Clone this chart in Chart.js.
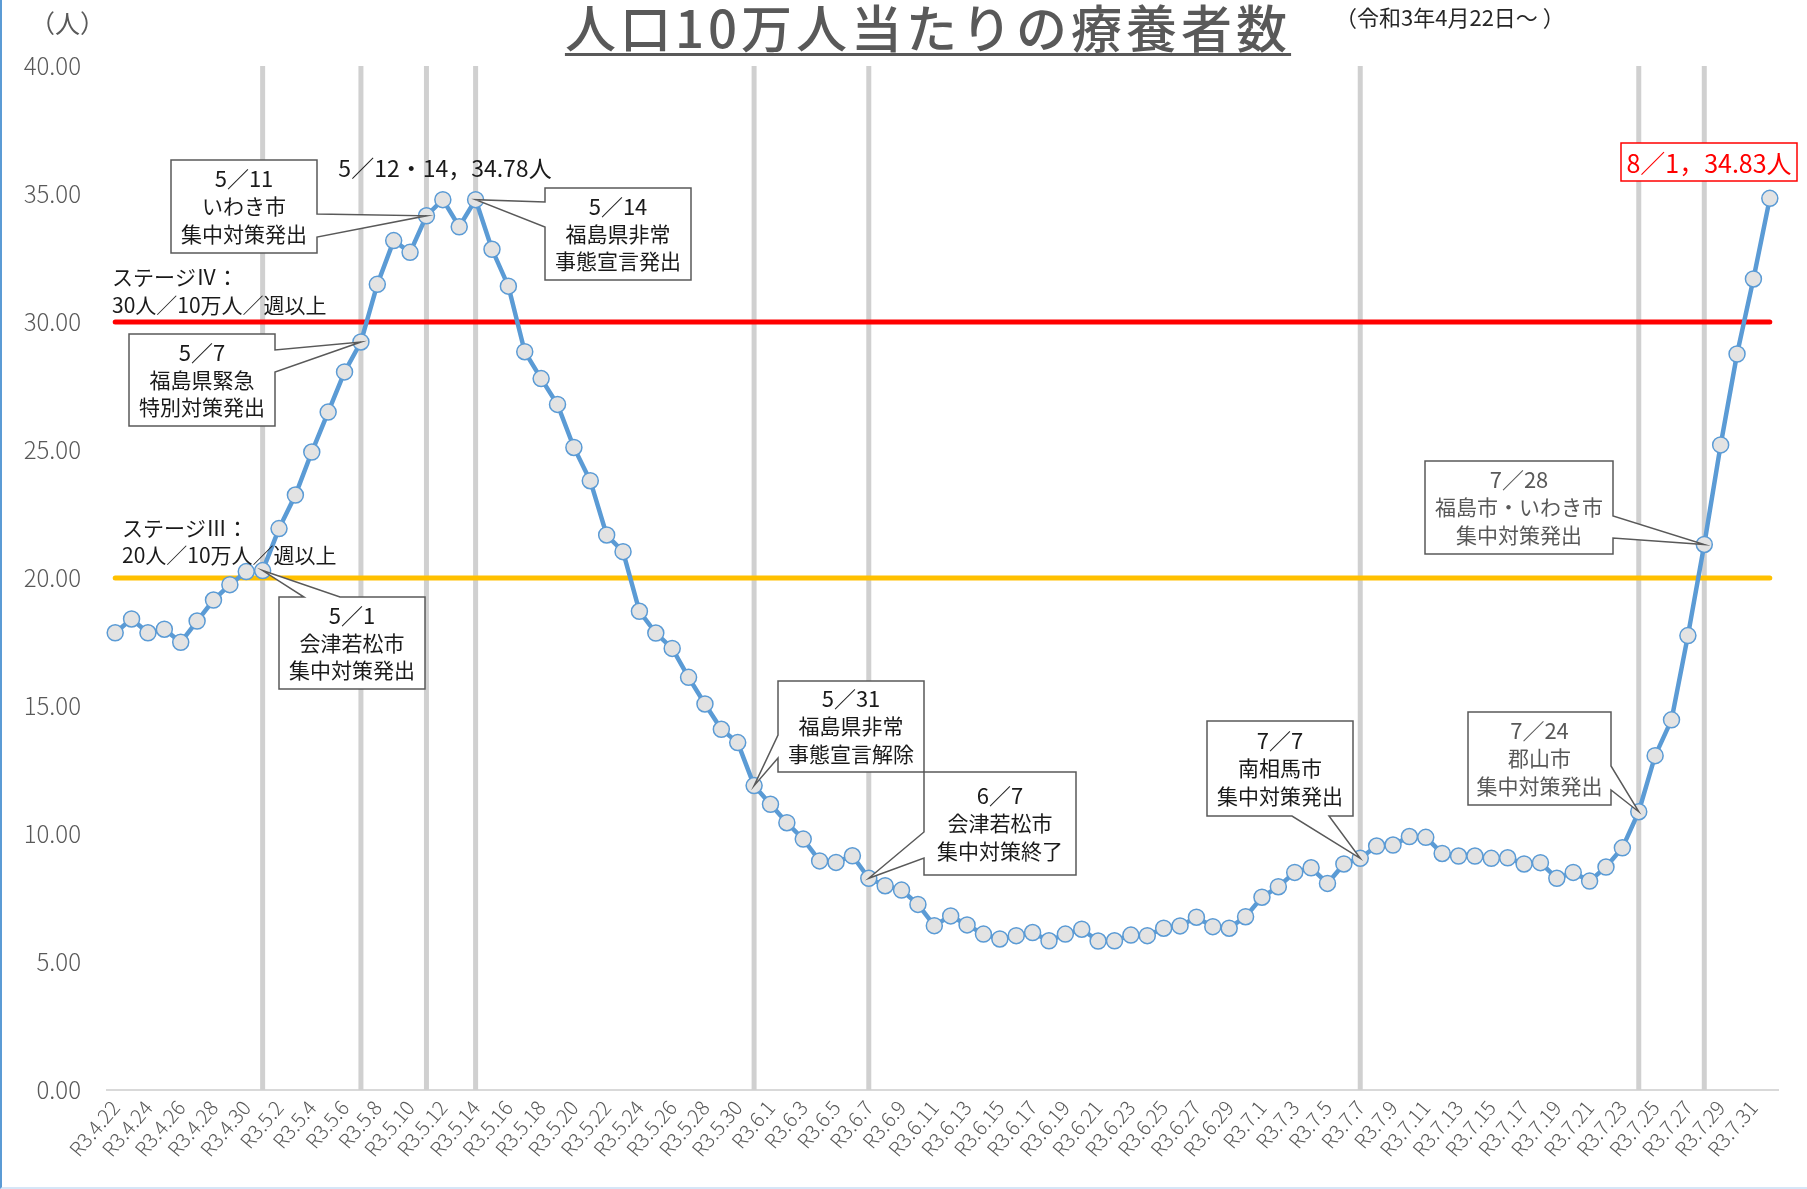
<!DOCTYPE html>
<html lang="ja">
<head>
<meta charset="utf-8">
<title>人口10万人当たりの療養者数</title>
<script src="https://cdn.jsdelivr.net/npm/chart.js@4.4.0/dist/chart.umd.min.js"></script>
<style>
  body { margin: 0; background: #fff; }
  #cadre { position: relative; width: 1807px; height: 1189px; font-family: 'Noto Sans CJK JP', sans-serif; }
  #cadre canvas { position: absolute; left: 0; top: 0; }
  .texte { position: absolute; white-space: nowrap; line-height: 1; }
  #titre { left: 428px; width: 1000px; text-align: center; top: 1px; font-size: 51px; font-weight: 500; color: #595959; letter-spacing: 4px;
           text-decoration: underline; text-decoration-thickness: 3px; text-underline-offset: 5px; }
  #soustitre { left: 1335px; top: 5px; font-size: 22px; color: #262626; }
  #unite { left: 30px; top: 10px; font-size: 25px; color: #595959; }
  #bord { position: absolute; left: 0; top: 0; width: 1805px; height: 1187px; border-left: 2px solid #5b9bd5; border-bottom: 2px solid #d6e6f7; pointer-events: none; }
</style>
</head>
<body>
<div id="cadre">
  <canvas id="graphique"></canvas>
  <div class="texte" id="titre">人口10万人当たりの療養者数</div>
  <div class="texte" id="soustitre">（令和3年4月22日～ ）</div>
  <div class="texte" id="unite">（人）</div>
  <div id="bord"></div>
</div>
<script>
// dates (axe des x)
const dates = [
  'R3.4.22','R3.4.23','R3.4.24','R3.4.25','R3.4.26','R3.4.27','R3.4.28','R3.4.29','R3.4.30',
  'R3.5.1','R3.5.2','R3.5.3','R3.5.4','R3.5.5','R3.5.6','R3.5.7','R3.5.8','R3.5.9','R3.5.10',
  'R3.5.11','R3.5.12','R3.5.13','R3.5.14','R3.5.15','R3.5.16','R3.5.17','R3.5.18','R3.5.19','R3.5.20',
  'R3.5.21','R3.5.22','R3.5.23','R3.5.24','R3.5.25','R3.5.26','R3.5.27','R3.5.28','R3.5.29','R3.5.30','R3.5.31',
  'R3.6.1','R3.6.2','R3.6.3','R3.6.4','R3.6.5','R3.6.6','R3.6.7','R3.6.8','R3.6.9','R3.6.10',
  'R3.6.11','R3.6.12','R3.6.13','R3.6.14','R3.6.15','R3.6.16','R3.6.17','R3.6.18','R3.6.19','R3.6.20',
  'R3.6.21','R3.6.22','R3.6.23','R3.6.24','R3.6.25','R3.6.26','R3.6.27','R3.6.28','R3.6.29','R3.6.30',
  'R3.7.1','R3.7.2','R3.7.3','R3.7.4','R3.7.5','R3.7.6','R3.7.7','R3.7.8','R3.7.9','R3.7.10',
  'R3.7.11','R3.7.12','R3.7.13','R3.7.14','R3.7.15','R3.7.16','R3.7.17','R3.7.18','R3.7.19','R3.7.20',
  'R3.7.21','R3.7.22','R3.7.23','R3.7.24','R3.7.25','R3.7.26','R3.7.27','R3.7.28','R3.7.29','R3.7.30','R3.7.31',
  'R3.8.1'
];

//療養者数 pour 10万人
const ryoyosha = [
  17.86, 18.40, 17.86, 18.00, 17.49, 18.32, 19.14, 19.74, 20.25,
  20.29, 21.93, 23.24, 24.92, 26.48, 28.05, 29.22, 31.47, 33.18, 32.72,
  34.15, 34.78, 33.72, 34.78, 32.84, 31.40, 28.84, 27.79, 26.78, 25.10,
  23.80, 21.68, 21.03, 18.70, 17.85, 17.25, 16.12, 15.08, 14.09, 13.57, 11.89,
  11.16, 10.44, 9.80, 8.95, 8.89, 9.15, 8.27, 7.98, 7.81, 7.25,
  6.42, 6.80, 6.45, 6.09, 5.90, 6.03, 6.15, 5.83, 6.09, 6.28,
  5.82, 5.83, 6.05, 6.03, 6.32, 6.41, 6.75, 6.38, 6.32, 6.77,
  7.53, 7.94, 8.50, 8.68, 8.07, 8.83, 9.05, 9.53, 9.57, 9.90,
  9.87, 9.24, 9.14, 9.14, 9.05, 9.07, 8.83, 8.88, 8.27, 8.50,
  8.16, 8.71, 9.46, 10.87, 13.06, 14.46, 17.75, 21.31, 25.20, 28.75, 31.68,
  34.83
];

// seuils des stages
const seuilStage4 = 30;
const seuilStage3 = 20;

// graduations de l'axe y
const yMin = 0, yMax = 40, yPas = 5;

// dates des lignes verticales (mesures)
const datesMesures = ['R3.5.1','R3.5.7','R3.5.11','R3.5.14','R3.5.31','R3.6.7','R3.7.7','R3.7.24','R3.7.28'];

const police = "'Noto Sans CJK JP', sans-serif";

// bulles d'annotation (position de la boite en pixels, pointe sur le point de la date)
const bulles = [
  { texte: ['5／11', 'いわき市', '集中対策発出'], x: 171, y: 160, w: 146, h: 93, cote: 'right', a: 214, b: 237, date: 'R3.5.11', couleur: '#1a1a1a' },
  { texte: ['5／14', '福島県非常', '事態宣言発出'], x: 545, y: 188, w: 146, h: 92, cote: 'left', a: 202, b: 227, date: 'R3.5.14', couleur: '#1a1a1a' },
  { texte: ['5／7', '福島県緊急', '特別対策発出'], x: 129, y: 334, w: 146, h: 92, cote: 'right', a: 350, b: 372, date: 'R3.5.7', couleur: '#1a1a1a' },
  { texte: ['5／1', '会津若松市', '集中対策発出'], x: 279, y: 597, w: 146, h: 92, cote: 'top', a: 304, b: 340, date: 'R3.5.1', couleur: '#1a1a1a' },
  { texte: ['5／31', '福島県非常', '事態宣言解除'], x: 778, y: 681, w: 146, h: 91, cote: 'left', a: 735, b: 758, date: 'R3.5.31', couleur: '#1a1a1a' },
  { texte: ['6／7', '会津若松市', '集中対策終了'], x: 924, y: 772, w: 152, h: 103, cote: 'left', a: 832, b: 858, date: 'R3.6.7', couleur: '#1a1a1a' },
  { texte: ['7／7', '南相馬市', '集中対策発出'], x: 1207, y: 721, w: 146, h: 95, cote: 'bottom', a: 1292, b: 1329, date: 'R3.7.7', couleur: '#1a1a1a' },
  { texte: ['7／24', '郡山市', '集中対策発出'], x: 1468, y: 712, w: 143, h: 93, cote: 'right', a: 766, b: 790, date: 'R3.7.24', couleur: '#595959' },
  { texte: ['7／28', '福島市・いわき市', '集中対策発出'], x: 1425, y: 461, w: 188, h: 93, cote: 'right', a: 516, b: 538, date: 'R3.7.28', couleur: '#595959' }
];

// chemin d'une bulle avec sa pointe
function cheminBulle(ctx, bl, px, py) {
  const { x, y, w, h, a, b } = bl;
  ctx.beginPath();
  ctx.moveTo(x, y);
  if (bl.cote === 'top') { ctx.lineTo(a, y); ctx.lineTo(px, py); ctx.lineTo(b, y); }
  ctx.lineTo(x + w, y);
  if (bl.cote === 'right') { ctx.lineTo(x + w, a); ctx.lineTo(px, py); ctx.lineTo(x + w, b); }
  ctx.lineTo(x + w, y + h);
  if (bl.cote === 'bottom') { ctx.lineTo(b, y + h); ctx.lineTo(px, py); ctx.lineTo(a, y + h); }
  ctx.lineTo(x, y + h);
  if (bl.cote === 'left') { ctx.lineTo(x, b); ctx.lineTo(px, py); ctx.lineTo(x, a); }
  ctx.closePath();
}

const dessin = {
  id: 'dessin',
  beforeDatasetsDraw(chart) {
    const { ctx, chartArea, scales: { x } } = chart;
    ctx.save();
    ctx.strokeStyle = '#d0d0d0';
    ctx.lineWidth = 5;
    datesMesures.forEach(d => {
      const px = x.getPixelForValue(dates.indexOf(d));
      ctx.beginPath();
      ctx.moveTo(px, chartArea.top);
      ctx.lineTo(px, chartArea.bottom);
      ctx.stroke();
    });
    ctx.restore();
  },
  afterDraw(chart) {
    const { ctx, scales: { x, y } } = chart;
    ctx.save();
    ctx.textAlign = 'center';
    ctx.textBaseline = 'middle';
    // bulles
    bulles.forEach(bl => {
      const i = dates.indexOf(bl.date);
      const px = x.getPixelForValue(i);
      const py = y.getPixelForValue(ryoyosha[i]);
      cheminBulle(ctx, bl, px, py);
      ctx.fillStyle = '#ffffff';
      ctx.fill();
      ctx.strokeStyle = '#595959';
      ctx.lineWidth = 1.5;
      ctx.stroke();
      ctx.fillStyle = bl.couleur;
      const cy = bl.y + bl.h / 2;
      bl.texte.forEach((t, k) => {
        ctx.font = (k === 0 ? '22px ' : '21px ') + police;
        ctx.fillText(t, bl.x + bl.w / 2, cy + (k - 1) * 27.5);
      });
    });
    // valeur du pic
    ctx.fillStyle = '#1a1a1a';
    ctx.font = '23px ' + police;
    ctx.fillText('5／12・14，34.78人', 445, 168);
    // valeur du dernier jour
    ctx.fillStyle = '#ffffff';
    ctx.fillRect(1621, 143, 176, 38);
    ctx.strokeStyle = '#ff0000';
    ctx.lineWidth = 1.5;
    ctx.strokeRect(1621, 143, 176, 38);
    ctx.fillStyle = '#ff0000';
    ctx.font = '25px ' + police;
    ctx.fillText('8／1，34.83人', 1709, 163);
    // textes des stages
    ctx.textAlign = 'left';
    ctx.fillStyle = '#1a1a1a';
    ctx.font = '21px ' + police;
    ctx.fillText('ステージⅣ：', 112, 277);
    ctx.fillText('30人／10万人／週以上', 112, 305);
    ctx.fillText('ステージⅢ：', 122, 528);
    ctx.fillText('20人／10万人／週以上', 122, 555);
    ctx.restore();
  }
};

new Chart(document.getElementById('graphique'), {
  type: 'line',
  data: {
    labels: dates,
    datasets: [
      {
        label: '療養者数',
        data: ryoyosha,
        borderColor: '#5b9bd5',
        borderWidth: 4.5,
        pointRadius: 8,
        pointBackgroundColor: '#e3e3e3',
        pointBorderColor: '#5b9bd5',
        pointBorderWidth: 1.5,
        tension: 0,
        order: 0
      },
      {
        label: 'ステージⅣ',
        data: dates.map(() => seuilStage4),
        borderColor: '#ff0000',
        borderWidth: 5,
        borderCapStyle: 'round',
        pointRadius: 0,
        order: 1
      },
      {
        label: 'ステージⅢ',
        data: dates.map(() => seuilStage3),
        borderColor: '#ffc000',
        borderWidth: 5,
        borderCapStyle: 'round',
        pointRadius: 0,
        order: 2
      }
    ]
  },
  options: {
    responsive: true,
    maintainAspectRatio: false,
    animation: false,
    layout: { padding: { top: 66, right: 29, left: 0, bottom: 0 } },
    plugins: { legend: { display: false }, tooltip: { enabled: false } },
    scales: {
      x: {
        offset: true,
        grid: { display: false, drawTicks: false },
        border: { display: true, color: '#d9d9d9', width: 2 },
        ticks: {
          autoSkip: false, minRotation: 50, maxRotation: 50, padding: 6,
          color: '#595959', font: { family: police, size: 20, weight: 300 },
          callback: (v, i) => (i % 2 === 0 ? dates[i] : '')
        },
        afterFit: s => { s.height = 99; }
      },
      y: {
        min: yMin, max: yMax,
        grid: { display: false, drawTicks: false },
        border: { display: false },
        ticks: {
          stepSize: yPas, padding: 26,
          color: '#595959', font: { family: police, size: 24, weight: 300 },
          callback: v => v.toFixed(2)
        },
        afterFit: s => { s.width = 107; }
      }
    }
  },
  plugins: [dessin]
});
</script>
</body>
</html>
